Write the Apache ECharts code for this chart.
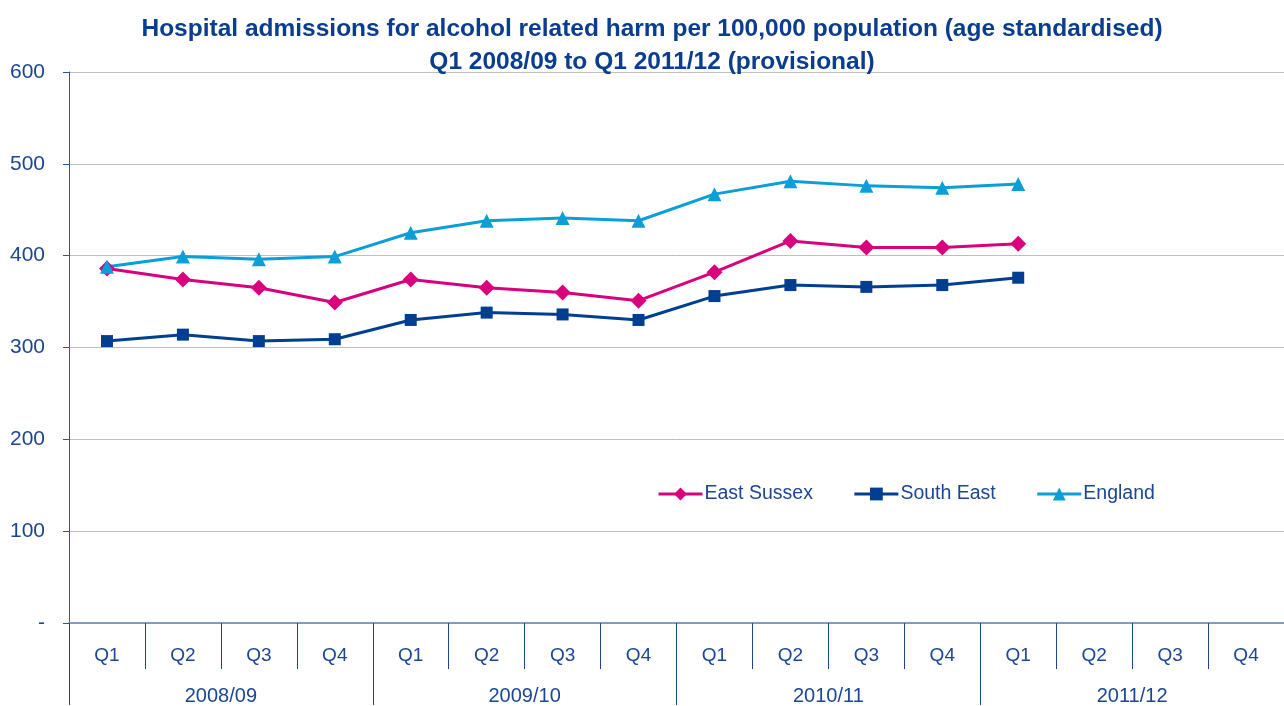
<!DOCTYPE html>
<html>
<head>
<meta charset="utf-8">
<script src="https://cdn.jsdelivr.net/npm/echarts@6/dist/echarts.min.js"></script>
<style>
    html, body { margin: 0; padding: 0; background: #fff; }
    #container { width: 1284px; height: 706px; }
</style>
</head>
<body>
<div id="container"></div>
<script>
    // 数据
    let quarters = ['Q1', 'Q2', 'Q3', 'Q4', 'Q1', 'Q2', 'Q3', 'Q4', 'Q1', 'Q2', 'Q3', 'Q4', 'Q1', 'Q2', 'Q3', 'Q4'];
    let years = ['2008/09', '2009/10', '2010/11', '2011/12'];
    let eastSussex = [386, 374, 365, 349, 374, 365, 360, 351, 382, 416, 409, 409, 413];
    let southEast = [307, 314, 307, 309, 330, 338, 336, 330, 356, 368, 366, 368, 376];
    let england = [388, 399, 396, 399, 425, 438, 441, 438, 467, 481, 476, 474, 478];

    let textColor = '#1c4594';
    let fontName = '"Liberation Sans", Arial, sans-serif';

    let myChart = echarts.init(document.getElementById('container'));
    let option = {
        backgroundColor: '#fff',
        animation: false,
        textStyle: { fontFamily: fontName },
        title: {
            text: 'Hospital admissions for alcohol related harm per 100,000 population (age standardised)\nQ1 2008/09 to Q1 2011/12 (provisional)',
            left: 647,
            textAlign: 'center',
            top: 8,
            textStyle: {
                color: '#0b3d8f',
                fontSize: 24.5,
                fontWeight: 'bold',
                lineHeight: 33,
                fontFamily: fontName
            }
        },
        legend: {
            left: 652,
            top: 479,
            itemWidth: 44,
            itemHeight: 16,
            itemGap: 40,
            lineStyle: { width: 3 },
            textStyle: { color: textColor, fontSize: 19.5, fontFamily: fontName, padding: [0, 0, 0, -3] },
            data: ['East Sussex', 'South East', 'England']
        },
        grid: { left: 69, right: 0, top: 72, bottom: 82 },
        xAxis: [{
            type: 'category',
            data: quarters,
            boundaryGap: true,
            axisLine: { show: true, lineStyle: { color: '#7f9cc9', width: 2 } },
            axisTick: { show: true, interval: 0, length: 46, lineStyle: { color: '#1c4594', width: 1 } },
            axisLabel: { interval: 0, color: textColor, fontSize: 19, margin: 23 },
            splitLine: { show: false }
        }, {
            type: 'category',
            data: years,
            position: 'bottom',
            boundaryGap: true,
            axisLine: { show: false },
            axisTick: { show: true, interval: 0, length: 82, lineStyle: { color: '#1c4594', width: 1 } },
            axisLabel: { interval: 0, color: textColor, fontSize: 20, margin: 63 },
            splitLine: { show: false }
        }],
        yAxis: {
            type: 'value',
            min: 0,
            max: 600,
            interval: 100,
            axisLine: { show: true, lineStyle: { color: '#2a58a8', width: 1 } },
            axisTick: { show: true, length: 6, lineStyle: { color: '#2a58a8' } },
            axisLabel: {
                color: textColor,
                fontSize: 21,
                margin: 24,
                formatter: function (value) {
                    return value === 0 ? '-' : value;
                }
            },
            splitLine: { lineStyle: { color: '#bdbdbd', width: 1 } }
        },
        series: [{
            name: 'East Sussex',
            type: 'line',
            data: eastSussex,
            symbol: 'diamond',
            symbolSize: 16,
            itemStyle: { color: '#d9007e' },
            lineStyle: { color: '#d9007e', width: 3 }
        }, {
            name: 'South East',
            type: 'line',
            data: southEast,
            symbol: 'rect',
            symbolSize: 12,
            itemStyle: { color: '#003f8f' },
            lineStyle: { color: '#003f8f', width: 3 }
        }, {
            name: 'England',
            type: 'line',
            data: england,
            symbol: 'triangle',
            symbolSize: 14,
            itemStyle: { color: '#0a9fd6' },
            lineStyle: { color: '#0a9fd6', width: 3 }
        }]
    };
    myChart.setOption(option);
</script>
</body>
</html>
